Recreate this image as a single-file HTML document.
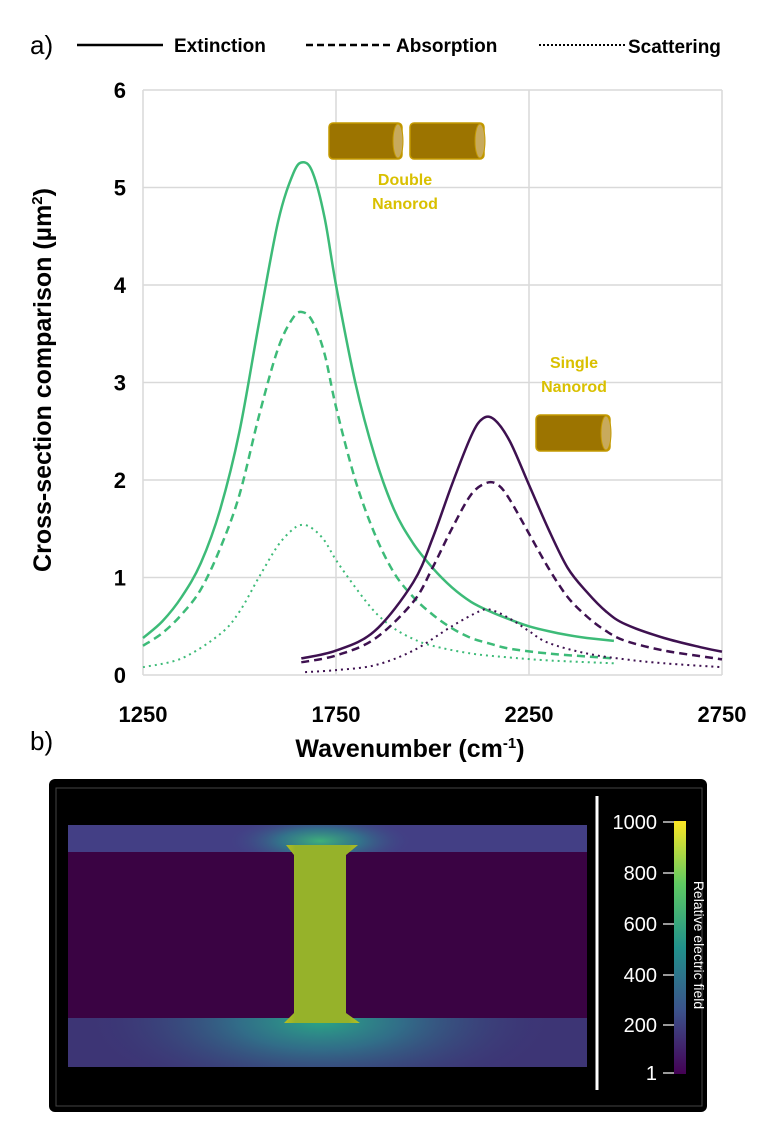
<!DOCTYPE html>
<html><head><meta charset="utf-8"><style>
html,body{margin:0;padding:0;background:#fff;width:778px;height:1125px;overflow:hidden}
text{font-family:"Liberation Sans",sans-serif}
</style></head><body>
<svg id="chart" width="778" height="1125" viewBox="0 0 778 1125" xmlns="http://www.w3.org/2000/svg">
<defs>
<linearGradient id="cb" x1="0" y1="1" x2="0" y2="0">
<stop offset="0" stop-color="#440154"/><stop offset="0.25" stop-color="#3b528b"/><stop offset="0.5" stop-color="#21918c"/><stop offset="0.75" stop-color="#5ec962"/><stop offset="1" stop-color="#fde725"/></linearGradient>
<radialGradient id="glowT" cx="0.5" cy="0.5" r="0.5"><stop offset="0" stop-color="#3fb07a"/><stop offset="0.45" stop-color="#2f7f8c" stop-opacity="0.8"/><stop offset="1" stop-color="#3f4a88" stop-opacity="0"/></radialGradient>
<radialGradient id="glowB" cx="0.5" cy="0.5" r="0.5"><stop offset="0" stop-color="#2aa586"/><stop offset="0.35" stop-color="#2f788c" stop-opacity="0.85"/><stop offset="1" stop-color="#3b3a7a" stop-opacity="0"/></radialGradient>
<linearGradient id="gapg" x1="0" y1="0" x2="1" y2="0"><stop offset="0" stop-color="#b8c020"/><stop offset="0.15" stop-color="#96b22a"/><stop offset="0.85" stop-color="#96b22a"/><stop offset="1" stop-color="#b8c020"/></linearGradient>
<clipPath id="clipT"><rect x="0" y="0" width="519" height="27"/></clipPath>
<clipPath id="clipB"><rect x="0" y="193" width="519" height="49"/></clipPath>
</defs>
<g id="plot"></g>
<g>
<text x="30" y="54" font-size="26" fill="#000">a)</text>
<line x1="77" y1="45" x2="163" y2="45" stroke="#000" stroke-width="2.5"/>
<text x="174" y="52" font-size="19" font-weight="bold" fill="#000">Extinction</text>
<line x1="306" y1="45" x2="392" y2="45" stroke="#000" stroke-width="2.5" stroke-dasharray="7,4"/>
<text x="396" y="52" font-size="19" font-weight="bold" fill="#000">Absorption</text>
<line x1="539" y1="45" x2="625" y2="45" stroke="#000" stroke-width="2" stroke-dasharray="2,2"/>
<text x="628" y="53" font-size="19" font-weight="bold" fill="#000">Scattering</text>
</g>
<g>
<rect x="329" y="123" width="73" height="36" rx="4" fill="#9c7400" stroke="#c49a00" stroke-width="1.5"/>
<ellipse cx="398" cy="141" rx="5" ry="17" fill="#c8aa5c" stroke="#c49a00"/>
<rect x="410" y="123" width="74" height="36" rx="4" fill="#9c7400" stroke="#c49a00" stroke-width="1.5"/>
<ellipse cx="480" cy="141" rx="5" ry="17" fill="#c8aa5c" stroke="#c49a00"/>
</g>
<text x="405" y="185" font-size="16" font-weight="bold" fill="#d9c000" text-anchor="middle">Double</text>
<text x="405" y="209" font-size="16" font-weight="bold" fill="#d9c000" text-anchor="middle">Nanorod</text>
<text x="574" y="368" font-size="16" font-weight="bold" fill="#d9c000" text-anchor="middle">Single</text>
<text x="574" y="392" font-size="16" font-weight="bold" fill="#d9c000" text-anchor="middle">Nanorod</text>
<g>
<rect x="536" y="415" width="74" height="36" rx="4" fill="#9c7400" stroke="#c49a00" stroke-width="1.5"/>
<ellipse cx="606" cy="433" rx="5" ry="17" fill="#c8aa5c" stroke="#c49a00"/>
</g>
<text x="30" y="750" font-size="26" fill="#000">b)</text>
<g>
<rect x="49" y="779" width="658" height="333" rx="6" fill="#000"/>
<rect x="56" y="788" width="646" height="318" fill="none" stroke="#444" stroke-width="1"/>
<svg x="68" y="825" width="519" height="242">
<rect x="0" y="0" width="519" height="242" fill="#3a0343"/>
<rect x="0" y="0" width="519" height="27" fill="#433f85"/>
<rect x="0" y="193" width="519" height="49" fill="#3d3575"/>
<ellipse cx="252" cy="16" rx="90" ry="26" fill="url(#glowT)" clip-path="url(#clipT)"/>
<ellipse cx="252" cy="196" rx="230" ry="80" fill="url(#glowB)" clip-path="url(#clipB)"/>
<path d="M218,20 L290,20 L278,30 L278,188 L292,198 L216,198 L226,188 L226,30 Z" fill="url(#gapg)"/>
</svg>
<line x1="597" y1="796" x2="597" y2="1090" stroke="#fff" stroke-width="3"/>
<rect x="674" y="821" width="12" height="253" fill="url(#cb)"/>
<g fill="#fff" font-family="Liberation Serif,serif" font-size="20" text-anchor="end">
<text x="657" y="829">1000</text><text x="657" y="880">800</text><text x="657" y="931">600</text><text x="657" y="982">400</text><text x="657" y="1032">200</text><text x="657" y="1080">1</text>
</g>
<g stroke="#ccc" stroke-width="1.5"><line x1="663" y1="822" x2="674" y2="822"/><line x1="663" y1="873" x2="674" y2="873"/><line x1="663" y1="924" x2="674" y2="924"/><line x1="663" y1="975" x2="674" y2="975"/><line x1="663" y1="1025" x2="674" y2="1025"/><line x1="663" y1="1073" x2="674" y2="1073"/></g>
<text x="0" y="0" transform="translate(694,945) rotate(90)" font-size="14" fill="#fff" text-anchor="middle">Relative electric field</text>
</g>
</svg>
<script>
const xTicks=[1250,1750,2250,2750];
const yTicks=[0,1,2,3,4,5,6];
const gExtX=[1250,1300,1350,1400,1450,1500,1550,1600,1640,1665,1690,1720,1750,1800,1850,1900,1950,2000,2050,2100,2150,2200,2250,2300,2350,2400,2470];
const gExtY=[0.38,0.55,0.8,1.15,1.7,2.5,3.6,4.65,5.15,5.26,5.15,4.7,4.0,3.0,2.25,1.7,1.35,1.1,0.9,0.75,0.65,0.57,0.5,0.45,0.41,0.38,0.35];
const gAbsX=[1250,1300,1350,1400,1450,1500,1550,1600,1640,1665,1690,1720,1750,1800,1850,1900,1950,2000,2050,2100,2150,2200,2300,2400,2470];
const gAbsY=[0.3,0.43,0.62,0.88,1.3,1.85,2.65,3.35,3.67,3.72,3.62,3.3,2.75,2.0,1.45,1.05,0.8,0.62,0.48,0.38,0.32,0.27,0.22,0.19,0.17];
const gScaX=[1250,1350,1450,1500,1550,1600,1640,1665,1690,1720,1750,1800,1850,1900,1950,2000,2100,2200,2300,2470];
const gScaY=[0.08,0.17,0.42,0.65,1.0,1.33,1.5,1.54,1.5,1.38,1.18,0.9,0.65,0.48,0.37,0.3,0.22,0.18,0.15,0.12];
const pExtX=[1660,1750,1850,1950,2000,2050,2100,2130,2160,2200,2250,2300,2350,2400,2450,2500,2600,2700,2750];
const pExtY=[0.17,0.25,0.45,0.95,1.4,1.95,2.45,2.63,2.62,2.4,1.95,1.5,1.1,0.85,0.65,0.52,0.38,0.28,0.24];
const pAbsX=[1660,1750,1850,1950,2000,2050,2100,2140,2170,2200,2250,2300,2350,2400,2450,2500,2600,2700,2750];
const pAbsY=[0.13,0.2,0.37,0.75,1.1,1.5,1.85,1.97,1.95,1.8,1.45,1.1,0.8,0.6,0.45,0.35,0.25,0.19,0.16];
const pScaX=[1670,1750,1850,1950,2050,2120,2150,2200,2250,2300,2400,2500,2600,2750];
const pScaY=[0.03,0.05,0.1,0.25,0.5,0.65,0.67,0.58,0.45,0.33,0.22,0.16,0.12,0.08];

const X0=143,X1=722,Y0=675,Y1=90;
const sx=v=>X0+(v-1250)/(2750-1250)*(X1-X0);
const sy=v=>Y0-(v/6)*(Y0-Y1);
const NS='http://www.w3.org/2000/svg';
const g=document.getElementById('plot');
function mk(t,a){const e=document.createElementNS(NS,t);for(const k in a)e.setAttribute(k,a[k]);g.appendChild(e);return e;}
yTicks.forEach(v=>{
  const l=mk('line',{x1:X0,x2:X1,y1:sy(v),y2:sy(v),stroke:'#d9d9d9','stroke-width':1.5});
  
  
  const t=mk('text',{x:126,y:sy(v)+8,'font-size':22,'font-weight':'bold','text-anchor':'end',fill:'#000'});
  t.textContent=v;
  
  
});
xTicks.forEach(v=>{
  const l=mk('line',{x1:sx(v),x2:sx(v),y1:Y1,y2:Y0,stroke:'#d9d9d9','stroke-width':1.5});
  
  
  const t=mk('text',{x:sx(v),y:722,'font-size':22,'font-weight':'bold','text-anchor':'middle',fill:'#000'});
  t.textContent=v;
  
  
});
const xt=mk('text',{x:410,y:757,'font-size':25,'font-weight':'bold','text-anchor':'middle',fill:'#000'});
xt.innerHTML='Wavenumber (cm<tspan dy="-9" font-size="15">-1</tspan><tspan dy="9">)</tspan>';


const yt=mk('text',{x:0,y:0,transform:'translate(51,380) rotate(-90)','font-size':25,'font-weight':'bold','text-anchor':'middle',fill:'#000'});
yt.innerHTML='Cross-section comparison (µm<tspan dy="-9" font-size="15">2</tspan><tspan dy="9">)</tspan>';


function series(xs,ys,col,dash,w,name){
  const P=xs.map((x,i)=>[sx(x),sy(ys[i])]);
  let d='M'+P[0][0].toFixed(1)+','+P[0][1].toFixed(1);
  for(let i=0;i<P.length-1;i++){
    const p0=P[i-1]||P[i],p1=P[i],p2=P[i+1],p3=P[i+2]||p2;
    const c1=[p1[0]+(p2[0]-p0[0])/6,p1[1]+(p2[1]-p0[1])/6];
    const c2=[p2[0]-(p3[0]-p1[0])/6,p2[1]-(p3[1]-p1[1])/6];
    d+='C'+c1.map(n=>n.toFixed(1)).join(',')+' '+c2.map(n=>n.toFixed(1)).join(',')+' '+p2.map(n=>n.toFixed(1)).join(',');
  }
  const p=mk('path',{d:d,fill:'none',stroke:col,'stroke-width':w,'stroke-dasharray':dash,'stroke-linejoin':'round'});
  
  
}
const GC='#3dbb78',PC='#3e1150';
series(gExtX,gExtY,GC,'none',2.5,'double-extinction-line');
series(gAbsX,gAbsY,GC,'8,5',2.5,'double-absorption-line');
series(gScaX,gScaY,GC,'2,4',2,'double-scattering-line');
series(pExtX,pExtY,PC,'none',2.5,'single-extinction-line');
series(pAbsX,pAbsY,PC,'8,5',2.5,'single-absorption-line');
series(pScaX,pScaY,PC,'2,4',2,'single-scattering-line');
</script>
</body></html>
